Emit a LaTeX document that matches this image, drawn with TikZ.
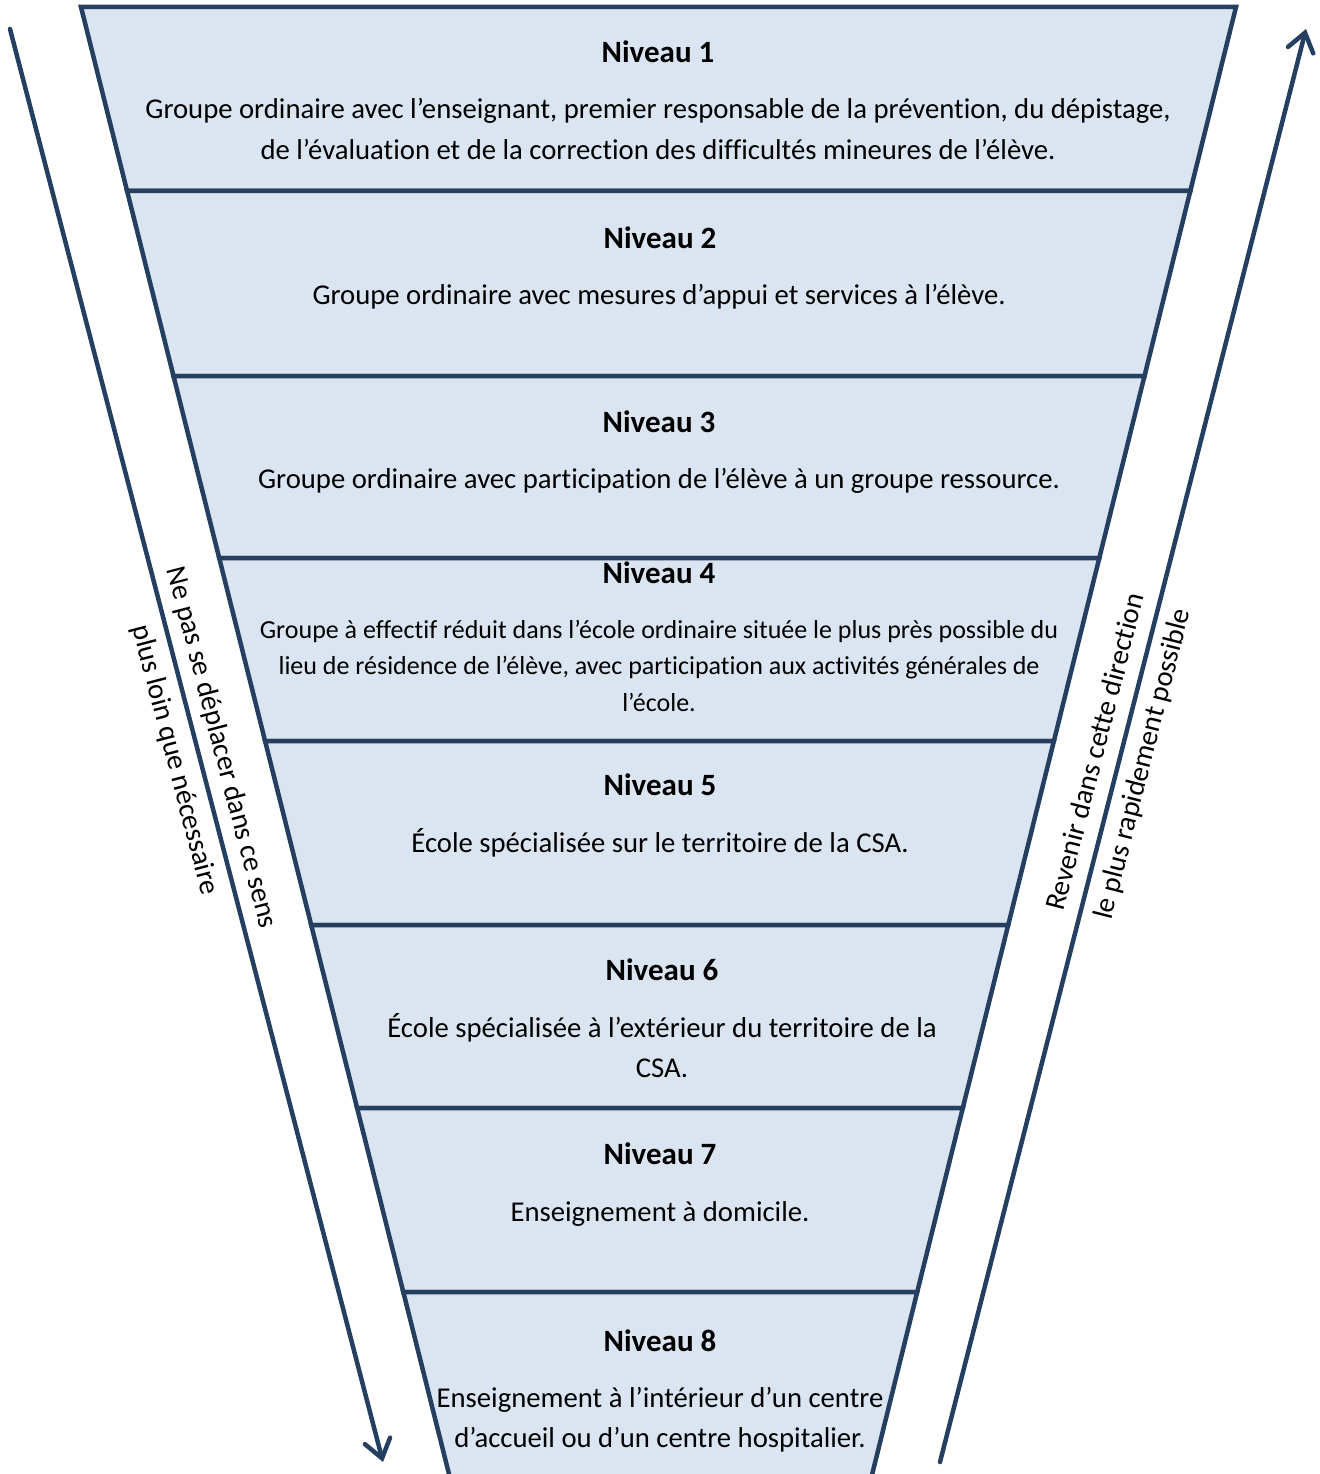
\documentclass[tikz,border=0pt]{standalone}
\usepackage{fontspec}
\setmainfont{Carlito}[Ligatures={NoCommon}]
\usetikzlibrary{arrows.meta}
\definecolor{edgecol}{HTML}{243F60}
\definecolor{bandcol}{HTML}{DBE5F1}
\tikzset{
  bandshape/.style={draw=edgecol, fill=bandcol, line width=4.5pt, line join=miter},
  leveltitle/.style={font=\fontsize{31}{36}\selectfont\bfseries, anchor=base, inner sep=0pt},
  levelbody/.style={font=\fontsize{28.7}{41}\selectfont, align=center, anchor=base, inner sep=0pt},
  smallbody/.style={font=\fontsize{26}{36.5}\selectfont, align=center, anchor=base, inner sep=0pt},
  arrowline/.style={draw=edgecol, line width=4.5pt, line cap=round, -{Straight Barb[length=18pt,width=26pt,line cap=round]}},
  sidetext/.style={font=\fontsize{28.7}{48}\selectfont, align=center, inner sep=0pt}
}
\begin{document}
\begin{tikzpicture}[x=1pt,y=-1pt]
\useasboundingbox (0,0) rectangle (1319,1474);
\begin{scope}
\clip (0,0) rectangle (1319,1474);
\draw[bandshape] (81,7) -- (1236,7) -- (1190.3,191) -- (127.1,191) -- cycle;
\draw[bandshape] (127.1,191) -- (1190.3,191) -- (1144.5,376) -- (173.5,376) -- cycle;
\draw[bandshape] (173.5,376) -- (1144.5,376) -- (1099.3,558) -- (219.2,558) -- cycle;
\draw[bandshape] (219.2,558) -- (1099.3,558) -- (1053.9,741) -- (265.1,741) -- cycle;
\draw[bandshape] (265.1,741) -- (1053.9,741) -- (1008.2,925) -- (311.2,925) -- cycle;
\draw[bandshape] (311.2,925) -- (1008.2,925) -- (962.8,1108) -- (357.1,1108) -- cycle;
\draw[bandshape] (357.1,1108) -- (962.8,1108) -- (917.2,1292) -- (403.3,1292) -- cycle;
\draw[bandshape] (403.3,1292) -- (917.2,1292) -- (867.3,1494) -- (454.0,1494) -- cycle;
\end{scope}

\node[leveltitle] (t1) at (658,63) {Niveau 1};
\node[levelbody] (b1) at (658,160) {Groupe ordinaire avec l’enseignant, premier responsable de la prévention, du dépistage,\\de l’évaluation et de la correction des difficultés mineures de l’élève.};

\node[leveltitle] (t2) at (660,248) {Niveau 2};
\node[levelbody] (b2) at (659,304) {Groupe ordinaire avec mesures d’appui et services à l’élève.};

\node[leveltitle] (t3) at (659,432) {Niveau 3};
\node[levelbody] (b3) at (659,488) {Groupe ordinaire avec participation de l’élève à un groupe ressource.};

\node[leveltitle] (t4) at (659,583) {Niveau 4};
\node[smallbody] (b4) at (659,711) {Groupe à effectif réduit dans l’école ordinaire située le plus près possible du\\lieu de résidence de l’élève, avec participation aux activités générales de\\l’école.};

\node[leveltitle] (t5) at (660,795) {Niveau 5};
\node[levelbody] (b5) at (660,852) {École spécialisée sur le territoire de la CSA.};

\node[leveltitle] (t6) at (662,980) {Niveau 6};
\node[levelbody, font=\fontsize{28.7}{40}\selectfont] (b6) at (662,1077) {École spécialisée à l’extérieur du territoire de la\\CSA.};

\node[leveltitle] (t7) at (660,1164) {Niveau 7};
\node[levelbody] (b7) at (660,1221) {Enseignement à domicile.};

\node[leveltitle] (t8) at (660,1351) {Niveau 8};
\node[levelbody, font=\fontsize{28.7}{40}\selectfont] (b8) at (660,1447) {Enseignement à l’intérieur d’un centre\\d’accueil ou d’un centre hospitalier.};

\coordinate (ls) at (10,29);
\coordinate (le) at (383,1462);
\coordinate (rs) at (940,1462);
\coordinate (re) at (1306,29);
\draw[arrowline] (ls) -- (le);
\draw[arrowline] (rs) -- (re);

\node[sidetext, rotate=-75.4] (lt) at (198,754) {Ne pas se déplacer dans ce sens\\plus loin que nécessaire};
\node[sidetext, rotate=75.7] (rt) at (1120,758) {Revenir dans cette direction\\le plus rapidement possible};
\end{tikzpicture}
\end{document}
